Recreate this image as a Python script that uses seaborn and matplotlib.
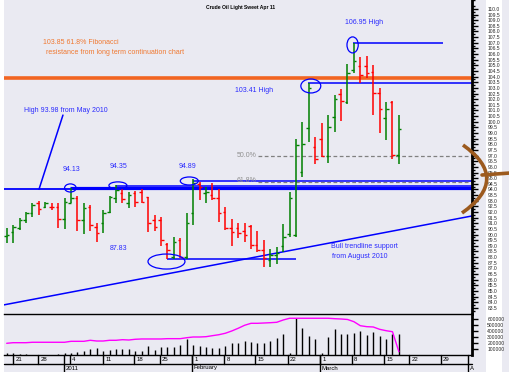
import numpy as np
import matplotlib
matplotlib.use("Agg")
import matplotlib.pyplot as plt
import seaborn as sns
from matplotlib.patches import Ellipse, PathPatch, Rectangle
from matplotlib.path import Path
import matplotlib.transforms as mtransforms

sns.set_style("dark")
plt.rcParams['font.family'] = ['Liberation Sans', 'DejaVu Sans']

# ---------------- data (daily bars, index = trading day) ----------------
opens = [89.9, 90.23, 90.55, 91.29, 91.88, 92.77, 92.47, 92.47, 92.47, 91.35,
         92.83, 93.21, 91.29, 92.47, 90.64, 91.05, 92.03, 93.21, 93.65, 92.77,
         93.65, 93.80, 93.30, 91.29, 91.29, 89.16, 88.04, 89.52, 88.04, 91.94,
         94.48, 93.65, 93.51, 93.21, 92.03, 90.55, 90.55, 90.32, 90.79, 89.07,
         88.63, 87.74, 88.19, 88.99, 90.05, 90.0, 95.58, 99.42, 97.79, 98.44,
         96.97, 100.39, 102.46, 101.78, 104.59, 104.95, 104.95, 104.44, 102.58, 100.31,
         101.78, 97.05]
highs = [90.55, 90.82, 91.44, 92.03, 92.77, 92.98, 92.92, 92.77, 92.77, 93.27,
         94.13, 93.42, 92.83, 92.62, 91.0, 92.18, 93.42, 94.35, 94.01, 93.80,
         93.86, 94.01, 93.36, 91.73, 91.59, 89.22, 89.75, 89.67, 91.88, 94.89,
         94.69, 94.19, 94.54, 94.01, 92.47, 91.35, 91.0, 91.0, 90.85, 90.35,
         89.52, 88.69, 88.87, 90.94, 93.74, 98.44, 100.01, 103.41, 98.68, 99.86,
         100.60, 102.37, 102.88, 105.12, 106.95, 105.71, 105.83, 105.03, 102.97, 101.78,
         101.84, 100.60]
lows = [89.22, 89.22, 90.40, 91.0, 91.59, 91.73, 92.33, 92.18, 90.55, 90.49,
        92.77, 90.35, 90.05, 90.35, 89.37, 90.17, 91.88, 92.83, 92.77, 92.33,
        92.47, 92.77, 90.26, 90.35, 88.99, 87.83, 87.83, 87.89, 87.83, 90.85,
        93.06, 92.83, 93.06, 91.14, 90.40, 89.02, 89.67, 89.37, 88.69, 88.48,
        87.09, 87.09, 87.39, 88.48, 89.75, 89.78, 95.13, 98.24, 96.26, 96.91,
        96.38, 99.12, 100.10, 101.58, 104.29, 103.41, 103.85, 100.60, 98.98, 98.38,
        96.67, 96.23]
closes = [90.0, 90.70, 91.29, 91.88, 92.62, 92.24, 92.77, 92.41, 91.35, 92.92,
          93.21, 91.29, 92.38, 90.85, 90.17, 91.88, 93.36, 93.95, 93.12, 93.51,
          92.92, 92.86, 91.0, 90.70, 89.52, 88.63, 89.37, 88.04, 91.0, 94.6,
          94.25, 93.74, 93.21, 91.88, 90.55, 90.26, 90.17, 89.96, 89.07, 88.63,
          87.95, 88.19, 88.40, 89.75, 93.21, 97.9, 98.03, 102.97, 96.67, 96.97,
          99.51, 101.99, 101.87, 104.35, 105.42, 104.15, 104.35, 102.58, 101.10, 101.10,
          97.05, 99.33]
volume_k = [39, 28, 17, 17, 5, 5, 5, 5, 17, 28,
            28, 56, 72, 94, 117, 72, 83, 100, 106, 106,
            67, 67, 150, 83, 133, 133, 133, 167, 261, 167,
            150, 128, 122, 111, 150, 194, 206, 233, 222, 206,
            206, 233, 289, 356, 39, 622, 450, 317, 267, 39,
            300, 433, 356, 356, 367, 400, 339, 383, 317, 267,
            356, 356]
open_interest_k = [195, 205, 205, 205, 212, 212, 212, 212, 212, 212,
                   228, 228, 228, 245, 233, 233, 245, 245, 255, 250,
                   262, 267, 267, 267, 267, 272, 272, 272, 288, 300,
                   300, 305, 322, 338, 362, 400, 445, 495, 528, 528,
                   533, 538, 545, 583, 612, 612, 612, 612, 612, 612,
                   612, 605, 600, 592, 555, 488, 472, 467, 428, 405,
                   388, 55]

day_tick_pos = [0.98, 4.87, 9.84, 14.98, 19.8, 23.8, 28.8, 33.8, 38.6, 43.7,
                48.7, 53.7, 58.7, 62.6, 67.5]
day_tick_labels = ['21', '28', '4', '11', '18', '25', '1', '8', '15', '22',
                   '1', '8', '15', '22', '29']
month_tick_pos = [8.9, 28.8, 48.7, 71.7]
month_tick_labels = ['2011', 'February', 'March', 'A']

# key levels
level_base = 94.01
level_9413 = 94.10
level_9435 = 94.30
level_9489 = 94.78
level_fib50 = 96.94
level_fib618 = 94.62
level_low = 87.83
level_10341 = 103.41
level_10695 = 106.95
level_10385 = 103.85

W, H = 510, 372
fig = plt.figure(figsize=(W / 100, H / 100), dpi=100, facecolor='#eaeaf2')

def fx(px):
    return px / W

def fy(py):
    return 1 - py / H

XMIN, XMAX = -0.42, 72.37
ax = fig.add_axes([fx(4), fy(314), fx(472) - fx(4), 314 / H])
axv = fig.add_axes([fx(4), fy(355), fx(472) - fx(4), 41 / H])
for a in (ax, axv):
    a.set_facecolor('#eaeaf2')
    a.set_xlim(XMIN, XMAX)
    for s in ('left', 'top', 'bottom'):
        a.spines[s].set_visible(False)
    a.spines['right'].set_color('black')
    a.spines['right'].set_linewidth(2)
    a.set_xticks([])
    a.grid(False)

ax.set_ylim(82.96, 110.79)
axv.set_ylim(0, 683)

# ---------------- OHLC bars ----------------
x = np.arange(len(opens))
o = np.array(opens); h = np.array(highs); l = np.array(lows); c = np.array(closes)
cols = np.where(c >= o, '#008000', '#ff0000')
ax.vlines(x, l, h, colors=cols, lw=1.1, zorder=3)
ax.hlines(o, x - 0.4, x, colors=cols, lw=1.0, zorder=3)
ax.hlines(c, x, x + 0.4, colors=cols, lw=1.0, zorder=3)

# ---------------- levels / lines ----------------
blue = '#0000ff'
ax.hlines(level_10385, XMIN, XMAX, color='#f26522', lw=2.6, zorder=2)
ax.hlines(level_base, XMIN, XMAX, color=blue, lw=1.3, zorder=2)
ax.hlines(level_9413, 9.9, XMAX, color=blue, lw=2.3, zorder=2)
ax.hlines(level_9435, 17, XMAX, color=blue, lw=1.1, zorder=2)
ax.hlines(level_9489, 29, XMAX, color=blue, lw=1.1, zorder=2)
ax.hlines(level_low, 24.9, 45, color=blue, lw=1.1, zorder=2)
ax.hlines(level_10341, 46.9, XMAX, color=blue, lw=1.1, zorder=2)
ax.hlines(level_10695, 53.9, 67.9, color=blue, lw=1.1, zorder=2)
ax.hlines(level_fib50, 39.1, XMAX, color='#808080', lw=0.9, linestyles=(0, (3, 2)), zorder=2)
ax.hlines(level_fib618, 39.1, XMAX, color='#808080', lw=0.9, linestyles=(0, (3, 2)), zorder=2)

sns.lineplot(x=[XMIN, XMAX], y=[83.77, 91.65], ax=ax, color=blue, lw=1.1, zorder=2)
sns.lineplot(x=[5.02, 8.75], y=[94.01, 100.59], ax=ax, color=blue, lw=1.1, zorder=2)

for cx, cy, ew, eh in [(9.9, 94.13, 1.8, 0.72), (17.3, 94.35, 2.8, 0.64),
                       (28.4, 94.75, 2.8, 0.71), (24.85, 87.61, 5.75, 1.33),
                       (47.3, 103.17, 3.1, 1.24), (53.8, 106.81, 1.75, 1.42)]:
    ax.add_patch(Ellipse((cx, cy), ew, eh, fill=False, ec=blue, lw=0.9, zorder=4))

# right price axis
ax.yaxis.tick_right()
ax.set_yticks(np.arange(83.5, 110.01, 0.5))
ax.set_yticklabels([f'{v:.1f}' for v in np.arange(83.5, 110.01, 0.5)])
ax.set_yticks(np.arange(83.25, 110.8, 0.5), minor=True)
ax.tick_params(axis='y', which='major', length=4, width=1, color='black',
               labelsize=3.6, pad=7, right=True, left=False)
ax.tick_params(axis='y', which='minor', length=2, width=1, color='black', right=True, left=False)

# volume axis
axv.spines['top'].set_visible(True)
axv.spines['top'].set_color('black')
axv.spines['top'].set_linewidth(1)
axv.spines['bottom'].set_visible(True)
axv.spines['bottom'].set_color('black')
axv.spines['bottom'].set_linewidth(1)
axv.vlines(x, 0, volume_k, colors='black', lw=1.0, zorder=3)
sns.lineplot(x=x, y=open_interest_k, ax=axv, color='#ff00ff', lw=1.0, zorder=4)
axv.yaxis.tick_right()
axv.set_yticks([100, 200, 300, 400, 500, 600])
axv.set_yticklabels(['100000', '200000', '300000', '400000', '500000', '600000'])
axv.tick_params(axis='y', length=4, width=1, color='black', labelsize=3.6, pad=7,
                right=True, left=False)
axv.set_ylabel('')
axv.set_xlabel('')
ax.set_xlabel('')
ax.set_ylabel('')

# date rows
tr = mtransforms.blended_transform_factory(axv.transData, axv.transAxes)
row_mid = (355 - 363.5) / 41
row_bot = (355 - 372) / 41
axv.plot([XMIN, XMAX], [row_mid, row_mid], transform=tr, color='black', lw=1, clip_on=False)
for p, lab in zip(day_tick_pos, day_tick_labels):
    axv.plot([p, p], [0, row_mid], transform=tr, color='black', lw=1, clip_on=False)
    axv.text(p + 0.35, (355 - 359.3) / 41, lab, transform=tr, fontsize=4.3,
             ha='left', va='center', color='black')
for p, lab in zip(month_tick_pos, month_tick_labels):
    axv.plot([p, p], [0, row_bot], transform=tr, color='black', lw=1, clip_on=False)
    axv.text(p + 0.3, (355 - 368) / 41, lab, transform=tr, fontsize=4.3,
             ha='left', va='center', color='black')

# white label column
fig.patches.append(Rectangle((fx(486), 0), fx(502) - fx(486), 1, transform=fig.transFigure,
                             facecolor='white', edgecolor='none', zorder=-1))
fig.patches.append(Rectangle((0, 0), fx(4), 1, transform=fig.transFigure,
                             facecolor='white', edgecolor='none', zorder=-1))

# ---------------- annotations ----------------
tblue = '#2a2aff'
orange = '#f07830'
def t(s, px, py, color, size=5.0, **kw):
    fig.text(fx(px), fy(py), s, color=color, fontsize=size, ha='left', va='center', **kw)

t('Crude Oil Light Sweet Apr 11', 206, 7, 'black', size=3.6, fontweight='bold')
t('103.85 61.8% Fibonacci', 43, 43, orange)
t(' resistance from long term continuation chart', 44, 52, orange)
t('High 93.98 from May 2010', 24, 110, tblue)
t('94.13', 63, 169, tblue)
t('94.35', 110, 166, tblue)
t('94.89', 179, 166, tblue)
t('87.83', 110, 248, tblue)
t('103.41 High', 235, 91, tblue)
t('106.95 High', 345, 23, tblue)
t('50.0%', 237, 155, '#909090')
t('61.8%', 237, 181, '#909090')
t('Bull trendline support', 331, 247, tblue)
t('from August 2010', 332, 257, tblue)

# brown bracket
brown = '#9c5a1e'
verts = [(fx(463), fy(145)), (fx(511), fy(179)), (fx(462), fy(213))]
path = Path(verts, [Path.MOVETO, Path.CURVE3, Path.CURVE3])
fig.patches.append(PathPatch(path, transform=fig.transFigure, fill=False, ec=brown, lw=2.6,
                             zorder=10))
fig.add_artist(plt.Line2D([fx(482), fx(510)], [fy(175), fy(173)], transform=fig.transFigure,
                          color=brown, lw=2.6, zorder=10))

fig.savefig('out.png', dpi=100, facecolor=fig.get_facecolor())
